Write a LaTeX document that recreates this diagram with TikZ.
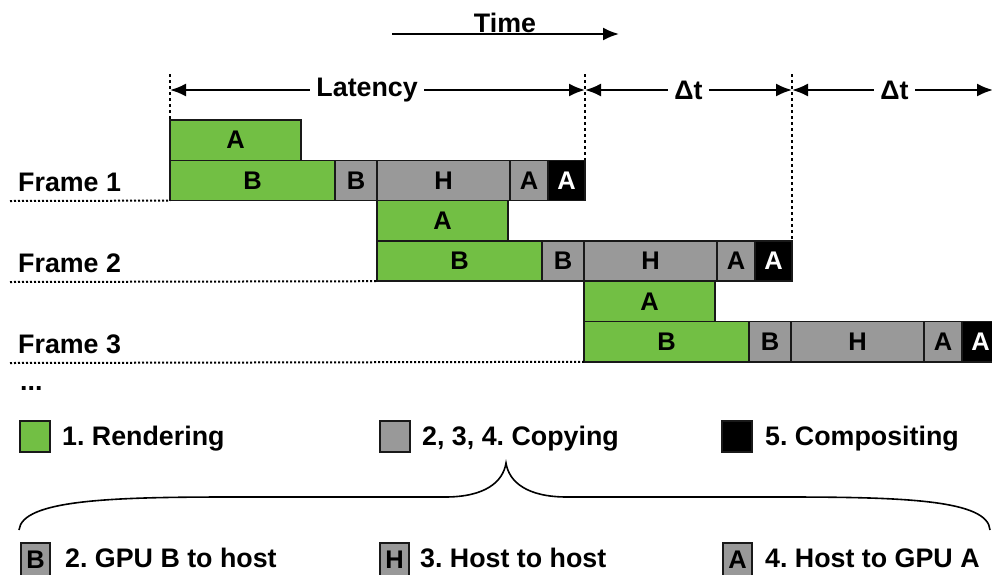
\documentclass[tikz,border=0pt]{standalone}
\usepackage{fontspec}
\setmainfont{Liberation Sans}
\usetikzlibrary{arrows.meta, positioning}
\definecolor{rendergreen}{RGB}{114,191,68}
\definecolor{copygrey}{RGB}{153,153,153}
\newcommand{\lbl}{\frenchspacing\bfseries\fontsize{26.8}{30}\selectfont}
\newcommand{\slotlbl}{\bfseries\fontsize{25.5}{28}\selectfont}
\tikzset{slot/.style = {draw=black!90, line width=1.6pt, inner sep=0pt, outer sep=0pt, minimum height=40.3pt, font=\slotlbl}}
\tikzset{render/.style = {slot, fill=rendergreen}}
\tikzset{copying/.style = {slot, fill=copygrey}}
\tikzset{compose/.style = {slot, fill=black, text=white}}
\tikzset{guide/.style = {dash pattern=on 3pt off 3pt, line width=1.6pt}}
\tikzset{rowline/.style = {dash pattern=on 2pt off 2pt, line width=2pt}}
\tikzset{interval/.style = {<->, >={Latex[length=16pt,width=13pt]}, line width=2pt}}
\tikzset{curly/.style = {line width=1.6pt}}

\begin{document}
\begin{tikzpicture}[x=1pt, y=-1pt, font=\lbl, inner sep=0pt]
                    \useasboundingbox (0,0) rectangle (992,574);
                    \clip (0,0) rectangle (992,574);

                    % Frame 1
                    \node[render, minimum width=131pt, anchor=north west] (f1a) at (170,120) {A};
                    \node[render, minimum width=165pt, anchor=north west] (f1b) at (f1a.south west) {B};
                    \node[copying, minimum width=42pt, right=0pt of f1b] (f1cb) {B};
                    \node[copying, minimum width=133pt, right=0pt of f1cb] (f1ch) {H};
                    \node[copying, minimum width=38pt, right=0pt of f1ch] (f1ca) {A};
                    \node[compose, minimum width=37pt, right=0pt of f1ca] (f1x) {A};

                    % Frame 2 starts when frame 1 copies to host
                    \node[render, minimum width=131pt, anchor=north west] (f2a) at (f1ch.south west) {A};
                    \node[render, minimum width=165pt, anchor=north west] (f2b) at (f2a.south west) {B};
                    \node[copying, minimum width=42pt, right=0pt of f2b] (f2cb) {B};
                    \node[copying, minimum width=133pt, right=0pt of f2cb] (f2ch) {H};
                    \node[copying, minimum width=38pt, right=0pt of f2ch] (f2ca) {A};
                    \node[compose, minimum width=37pt, right=0pt of f2ca] (f2x) {A};

                    % Frame 3
                    \node[render, minimum width=131pt, anchor=north west] (f3a) at (f2ch.south west) {A};
                    \node[render, minimum width=165pt, anchor=north west] (f3b) at (f3a.south west) {B};
                    \node[copying, minimum width=42pt, right=0pt of f3b] (f3cb) {B};
                    \node[copying, minimum width=133pt, right=0pt of f3cb] (f3ch) {H};
                    \node[copying, minimum width=38pt, right=0pt of f3ch] (f3ca) {A};
                    \node[compose, minimum width=37pt, right=0pt of f3ca] (f3x) {A};

                    % Frame labels and dotted base lines
                    \node[anchor=west] (lab1) at (18,182) {Frame 1};
                    \node[anchor=west] (lab2) at (18,263) {Frame 2};
                    \node[anchor=west] (lab3) at (18,344) {Frame 3};
                    \node[anchor=west] (more) at (20,388) {...};
                    \coordinate (r1) at (10,201);
                    \coordinate (r2) at (10,282);
                    \coordinate (r3) at (10,363);
                    \draw[rowline] (r1) -- (f1b.south west);
                    \draw[rowline] (r2) -- (f2b.south west);
                    \draw[rowline] (r3) -- (f3b.south west);

                    % Dashed guides
                    \draw[guide] (f1a.north west |- 0,74) -- (f1a.north west);
                    \draw[guide] (f1x.north east |- 0,74) -- (f1x.north east);
                    \draw[guide] (f2x.north east |- 0,74) -- (f2x.north east);

                    % Latency and frame interval
                    \coordinate (edge) at (993,90);
                    \draw[interval] (f1a.north west |- 0,90) -- node[pos=0.475, fill=white, inner xsep=6pt] (latency) {Latency} (f1x.north east |- 0,90);
                    \draw[interval] (f1x.north east |- 0,90) -- node[fill=white, inner xsep=6pt] (dt1) {Δt} (f2x.north east |- 0,90);
                    \draw[interval] (f2x.north east |- 0,90) -- node[pos=0.51, fill=white, inner xsep=6pt] (dt2) {Δt} (edge);

                    % Time axis
                    \node (time) at (505,23) {Time};
                    \coordinate (tstart) at (392,34);
                    \coordinate (tend) at (619,34);
                    \draw[-{Latex[length=16pt,width=13pt]}, line width=2pt] (tstart) -- (tend);

                    % Legend
                    \node[render, minimum width=30pt, minimum height=31pt, anchor=west] (swr) at (20,436.5) {};
                    \node[right=12pt of swr, yshift=-2pt] (txr) {1. Rendering};
                    \node[copying, minimum width=30pt, minimum height=31pt, anchor=west] (swc) at (380,436.5) {};
                    \node[right=12pt of swc, yshift=-2pt] (txc) {2, 3, 4. Copying};
                    \node[compose, minimum width=30pt, minimum height=31pt, anchor=west] (swx) at (722,436.5) {};
                    \node[right=13pt of swx, yshift=-2pt] (txx) {5. Compositing};

                    % Brace under copying
                    \draw[curly] (19,530) .. controls (22,500) and (110,497) .. (230,497) -- (445,497)
                        .. controls (485,497) and (503,482) .. (506,463)
                        .. controls (509,482) and (527,497) .. (567,497) -- (785,497)
                        .. controls (905,497) and (988,500) .. (990,530);

                    % Copy steps
                    \node[copying, minimum width=29pt, minimum height=34pt, anchor=north west] (swb) at (21,543) {B};
                    \node[right=15pt of swb, yshift=2pt] (txb) {2. GPU B to host};
                    \node[copying, minimum width=29pt, minimum height=34pt, anchor=north west] (swh) at (380,543) {H};
                    \node[right=11pt of swh, yshift=2pt] (txh) {3. Host to host};
                    \node[copying, minimum width=29pt, minimum height=34pt, anchor=north west] (swa) at (723,543) {A};
                    \node[right=13pt of swa, yshift=2pt] (txa) {4. Host to GPU A};
                 \end{tikzpicture}
\end{document}
